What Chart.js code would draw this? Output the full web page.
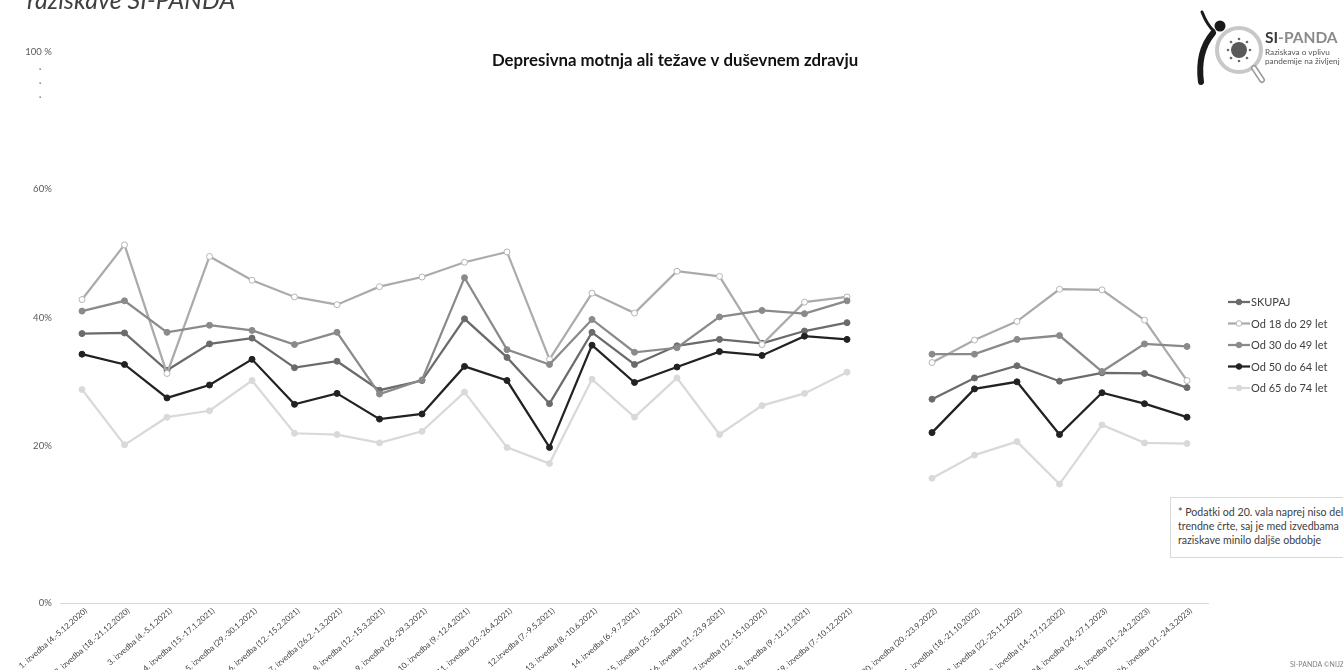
<!DOCTYPE html>
<html lang="sl">
<head>
<meta charset="utf-8">
<title>Depresivna motnja ali težave v duševnem zdravju</title>
<script src="https://cdn.jsdelivr.net/npm/chart.js@4.4.1/dist/chart.umd.min.js"></script>
<style>
  html, body { margin: 0; padding: 0; background: #fff; }
  body { width: 1343px; height: 670px; overflow: hidden; position: relative; font-family: Lato, "Open Sans", sans-serif; }
  #wrap { position: absolute; left: 0; top: 0; width: 1343px; height: 690px; }
  #logo { position: absolute; left: 0; top: 0; pointer-events: none; }
  .note {
    position: absolute; left: 1170px; top: 497px; width: 200px; height: 61px;
    border: 1px solid #d9d9d9; background: #fff; box-sizing: border-box;
    padding: 7px 0 0 7px; font: 10.6px/14px Lato, sans-serif; color: #404040; white-space: nowrap;
  }
  .credit { position: absolute; left: 1290px; top: 660px; font: 7px Lato, sans-serif; color: #7f7f7f; white-space: nowrap; }
</style>
</head>
<body>
<div id="wrap"><canvas id="chart" width="1343" height="690"></canvas></div>

<svg id="logo" width="1343" height="670" viewBox="0 0 1343 670">
  <!-- figure -->
  <path d="M1202 12 Q1207 25 1214 31" stroke="#1a1a1a" stroke-width="3" fill="none" stroke-linecap="round"/>
  <circle cx="1220" cy="26" r="5.5" fill="#1a1a1a"/>
  <path d="M1213 33 Q1197 52 1201 82" stroke="#1a1a1a" stroke-width="6" fill="none" stroke-linecap="round"/>
  <!-- magnifier -->
  <circle cx="1239" cy="50" r="22" fill="#fff" stroke="#c8c8c8" stroke-width="4"/>
  <line x1="1254" y1="68" x2="1262" y2="80" stroke="#9a9a9a" stroke-width="6" stroke-linecap="round"/>
  <line x1="1254" y1="68" x2="1262" y2="80" stroke="#fff" stroke-width="3" stroke-linecap="round"/>
  <circle cx="1239" cy="50" r="8" fill="#5a5a5a"/>
  <g fill="#6a6a6a">
    <circle cx="1239" cy="39" r="1.3"/><circle cx="1239" cy="61" r="1.3"/>
    <circle cx="1228" cy="50" r="1.3"/><circle cx="1250" cy="50" r="1.3"/>
    <circle cx="1231" cy="42" r="1.3"/><circle cx="1247" cy="42" r="1.3"/>
    <circle cx="1231" cy="58" r="1.3"/><circle cx="1247" cy="58" r="1.3"/>
  </g>
  <text x="1265" y="43" font-family="Lato, sans-serif" font-weight="bold" font-size="15.5"><tspan fill="#3a3a3a">SI</tspan><tspan fill="#8a8a8a">-PANDA</tspan></text>
  <text x="1265" y="55" font-family="Lato, sans-serif" font-size="8.2" fill="#555">Raziskava o vplivu</text>
  <text x="1265" y="64" font-family="Lato, sans-serif" font-size="8.2" fill="#555">pandemije na življenj</text>
</svg>

<div class="note">* Podatki od 20. vala naprej niso del<br>trendne črte, saj je med izvedbama<br>raziskave minilo daljše obdobje</div>
<div class="credit">SI-PANDA ©NIJZ</div>

<script>
// Survey waves (an empty slot separates the 2021 and 2022/23 series)
const categories = [
  "1. izvedba (4.-5.12.2020)",
  "2. izvedba (18.-21.12.2020)",
  "3. izvedba (4.-5.1.2021)",
  "4. izvedba (15.-17.1.2021)",
  "5. izvedba (29.-30.1.2021)",
  "6. izvedba (12.-15.2.2021)",
  "7. izvedba (26.2.-1.3.2021)",
  "8. izvedba (12.-15.3.2021)",
  "9. izvedba (26.-29.3.2021)",
  "10. izvedba (9.-12.4.2021)",
  "11. izvedba (23.-26.4.2021)",
  "12.izvedba (7.-9.5.2021)",
  "13. izvedba (8.-10.6.2021)",
  "14. izvedba (6.-9.7.2021)",
  "15. izvedba (25.-28.8.2021)",
  "16. izvedba (21.-23.9.2021)",
  "17.izvedba (12.-15.10.2021)",
  "18. izvedba (9.-12.11.2021)",
  "19. izvedba (7.-10.12.2021)",
  "",
  "20. izvedba (20.-23.9.2022)",
  "21. izvedba (18.-21.10.2022)",
  "22. izvedba (22.-25.11.2022)",
  "23. izvedba (14.-17.12.2022)",
  "24. izvedba (24.-27.1.2023)",
  "25. izvedba (21.-24.2.2023)",
  "26. izvedba (21.-24.3.2023)"
];

// Shares (%) per group
const skupaj   = [37.5, 37.6, 31.8, 35.9, 36.8, 32.2, 33.2, 28.7, 30.2, 39.8, 33.8, 26.6, 37.7, 32.7, 35.6, 36.6, 36.0, 37.9, 39.2, null, 27.3, 30.6, 32.5, 30.1, 31.4, 31.3, 29.1];
const od18do29 = [42.8, 51.3, 31.3, 49.5, 45.8, 43.2, 42.0, 44.8, 46.3, 48.6, 50.2, 33.5, 43.8, 40.7, 47.2, 46.4, 35.8, 42.4, 43.2, null, 33.0, 36.5, 39.4, 44.4, 44.3, 39.6, 30.2];
const od30do49 = [41.0, 42.6, 37.7, 38.8, 38.0, 35.8, 37.7, 28.1, 30.3, 46.2, 35.0, 32.7, 39.7, 34.6, 35.3, 40.1, 41.1, 40.6, 42.6, null, 34.3, 34.3, 36.6, 37.2, 31.6, 35.9, 35.5];
const od50do64 = [34.3, 32.7, 27.5, 29.5, 33.5, 26.5, 28.2, 24.2, 25.0, 32.4, 30.2, 19.8, 35.7, 29.9, 32.3, 34.7, 34.1, 37.1, 36.6, null, 22.1, 28.9, 30.0, 21.8, 28.3, 26.6, 24.5];
const od65do74 = [28.8, 20.2, 24.5, 25.5, 30.2, 22.0, 21.8, 20.5, 22.3, 28.4, 19.8, 17.3, 30.4, 24.5, 30.6, 21.8, 26.3, 28.2, 31.5, null, 15.0, 18.6, 20.7, 14.1, 23.3, 20.5, 20.4];

const seriesNames = ["SKUPAJ", "Od 18 do 29 let", "Od 30 do 49 let", "Od 50 do 64 let", "Od 65 do 74 let"];

// Broken value axis: the bottom and top ends carry the 0 % and 100 % labels
const yMin = -4.4;
const yMax = 81.3;
const yTickValues = [yMin, 20, 40, 60, yMax];
const yTickLabels = ["0%", "20%", "40%", "60%", "100 %"];

const FONT = "Lato, 'Open Sans', sans-serif";
const NARROW = "'Liberation Sans Narrow', 'Arial Narrow', Lato, sans-serif";

function series(label, data, line, pointFill, pointBorder, order) {
  return {
    label, data, order,
    borderColor: line,
    backgroundColor: line,
    borderWidth: 2.25,
    pointRadius: 3,
    pointBorderWidth: 1,
    pointBackgroundColor: pointFill,
    pointBorderColor: pointBorder,
    tension: 0,
    spanGaps: false
  };
}

const datasets = [
  series(seriesNames[0], skupaj,   "#6b6b6b", "#6b6b6b", "#6b6b6b", 5),
  series(seriesNames[1], od18do29, "#ababab", "#ffffff", "#b5b5b5", 4),
  series(seriesNames[2], od30do49, "#8a8a8a", "#8a8a8a", "#8a8a8a", 3),
  series(seriesNames[3], od50do64, "#222222", "#222222", "#222222", 2),
  series(seriesNames[4], od65do74, "#d9d9d9", "#d9d9d9", "#d9d9d9", 1)
];

// Title, cut heading, axis break marks and legend drawn on the canvas
const decorations = {
  id: 'decorations',
  afterDraw(chart) {
    const ctx = chart.ctx;
    ctx.save();
    // heading running off the top edge
    ctx.font = "italic 25px " + FONT;
    ctx.fillStyle = "#404040";
    ctx.textBaseline = "alphabetic";
    ctx.textAlign = "left";
    ctx.fillText("raziskave SI-PANDA", 27, 8.5);

    // chart title
    ctx.font = "bold 16.8px " + FONT;
    ctx.fillStyle = "#111";
    ctx.textAlign = "center";
    ctx.textBaseline = "middle";
    ctx.fillText("Depresivna motnja ali težave v duševnem zdravju", 675, 61);

    // break marks under the 100 % label
    ctx.fillStyle = "#595959";
    [69, 83, 97].forEach(y => { ctx.fillRect(39.5, y - 0.5, 1.3, 1.3); });

    // legend
    chart.data.datasets.forEach((ds, i) => {
      const y = 302 + i * 21.5;
      ctx.strokeStyle = ds.borderColor;
      ctx.lineWidth = 2.25;
      ctx.beginPath(); ctx.moveTo(1228, y); ctx.lineTo(1250, y); ctx.stroke();
      ctx.beginPath(); ctx.arc(1239, y, 2.8, 0, Math.PI * 2);
      ctx.fillStyle = ds.pointBackgroundColor; ctx.fill();
      ctx.lineWidth = 1; ctx.strokeStyle = ds.pointBorderColor; ctx.stroke();
      ctx.fillStyle = "#404040";
      ctx.font = "11px " + FONT;
      ctx.textAlign = "left";
      ctx.textBaseline = "middle";
      ctx.fillText(ds.label, 1251, y + 0.5);
    });
    ctx.restore();
  }
};

const CANVAS_H = 690;
const PLOT_BOTTOM = 603;
const PLOT_LEFT = 60.75;
const PLOT_RIGHT = 1208.25;

new Chart(document.getElementById('chart'), {
  type: 'line',
  data: { labels: categories, datasets },
  plugins: [decorations],
  options: {
    responsive: false,
    devicePixelRatio: 1,
    animation: false,
    layout: { padding: { top: 52, right: 1343 - PLOT_RIGHT, left: 0, bottom: 0 } },
    plugins: { legend: { display: false }, title: { display: false }, tooltip: { enabled: false } },
    scales: {
      x: {
        offset: true,
        grid: { display: false, drawTicks: false },
        border: { display: true, color: "#d9d9d9", width: 1 },
        ticks: {
          autoSkip: false, maxRotation: 41, minRotation: 41, padding: 3, labelOffset: 4,
          color: "#404040", font: { family: NARROW, size: 8 }
        },
        afterFit(scale) { scale.height = CANVAS_H - PLOT_BOTTOM; }
      },
      y: {
        min: yMin, max: yMax,
        afterBuildTicks(scale) { scale.ticks = yTickValues.map(v => ({ value: v })); },
        grid: { display: false, drawTicks: false },
        border: { display: false },
        ticks: {
          padding: 9,
          color: "#595959",
          font: { family: FONT, size: 9.5 },
          callback: (value, index) => yTickLabels[index]
        },
        afterFit(scale) { scale.width = PLOT_LEFT; }
      }
    }
  }
});
</script>
</body>
</html>
